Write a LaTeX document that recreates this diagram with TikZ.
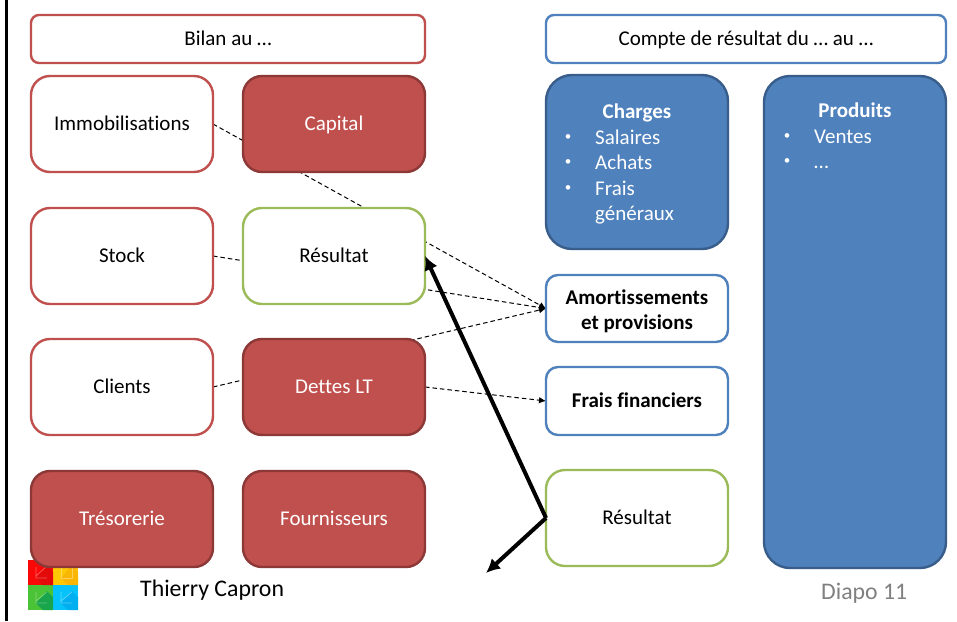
\documentclass[tikz,border=0pt]{standalone}
\usepackage{fontspec}
\setmainfont{Carlito}[Ligatures=CommonOff]
\usetikzlibrary{arrows.meta,backgrounds}
\newcommand{\vstr}{\rule[-2.2pt]{0pt}{18pt}}
\definecolor{redl}{RGB}{192,80,77}
\definecolor{redd}{RGB}{140,56,54}
\definecolor{bluel}{RGB}{79,129,189}
\definecolor{blued}{RGB}{56,93,138}
\definecolor{greenl}{RGB}{155,187,89}
\definecolor{logor}{RGB}{250,8,8}
\definecolor{logory}{RGB}{228,10,10}
\definecolor{logoy}{RGB}{255,200,5}
\definecolor{logoyd}{RGB}{250,182,5}
\definecolor{logog}{RGB}{75,195,55}
\definecolor{logogd}{RGB}{25,165,75}
\definecolor{logoc}{RGB}{5,195,250}
\definecolor{logocd}{RGB}{0,175,240}
\tikzset{
 x=1pt,y=-1pt,
 base/.style={rounded corners=19pt,line width=2.4pt,inner sep=0pt,outer sep=0pt,align=center,font=\fontsize{21}{25}\selectfont,anchor=north west},
 redo/.style={base,draw=redl,fill=white,minimum width=182pt,minimum height=96pt},
 redf/.style={base,draw=redd,fill=redl,text=white,minimum width=182pt,minimum height=96pt},
 greeno/.style={base,draw=greenl,fill=white,minimum width=182pt,minimum height=96pt},
 titlebox/.style={base,rounded corners=8pt,minimum width=394pt,minimum height=48pt},
 blueo/.style={base,rounded corners=12pt,draw=bluel,fill=white,minimum width=182pt},
 bluef/.style={base,rounded corners=26pt,draw=blued,fill=bluel,text=white,minimum width=182pt},
 dash1/.style={black,line width=1pt,dash pattern=on 4.5pt off 3pt},
 dashtip/.style={dash1,-{Latex[length=7pt,width=6.5pt]}},
 heavy/.style={black,line width=4pt,-{Latex[length=14pt,width=14pt]}},
 lbl/.style={text=white,font=\fontsize{21}{25}\selectfont,inner sep=0pt,anchor=base west},
 lblb/.style={text=white,font=\fontsize{21}{25}\selectfont\bfseries,inner sep=0pt,anchor=base},
 bul/.style={text=white,font=\fontsize{13}{15}\selectfont,inner sep=0pt,anchor=base},
 icon/.style={white,opacity=0.35,line width=0.7pt}
}
\begin{document}
\begin{tikzpicture}
\useasboundingbox (0,0) rectangle (957,621);
% logo
\fill[logor] (28,560) rectangle (53,585);
\fill[logoy] (53,560) rectangle (78,585);
\fill[logog] (28,585) rectangle (53,610);
\fill[logoc] (53,585) rectangle (78,610);
\fill[logory] (36,578) -- (47,565) -- (53,572) -- (53,585) -- (43,585) -- cycle;
\fill[logoyd] (61,578) -- (72,565) -- (78,572) -- (78,585) -- (68,585) -- cycle;
\fill[logogd] (36,603) -- (47,591) -- (53,597) -- (53,610) -- (43,610) -- cycle;
\fill[logocd] (61,603) -- (72,591) -- (78,597) -- (78,610) -- (68,610) -- cycle;
\draw[icon] (36,567) -- (36,578) -- (47,578) (36,576) -- (47,566);
\draw[icon] (61,567) -- (61,578) -- (72,578) -- (72,566);
\draw[icon] (36,592) -- (36,603) -- (47,603) (36,601) -- (47,592);
\draw[icon] (61,592) -- (61,603) -- (72,603) (61,601) -- (72,592);
% boxes
\node[titlebox,draw=redl,fill=white] (bilan) at (31,15) {\vstr Bilan au …};
\node[titlebox,draw=bluel,fill=white,minimum width=400pt] (compte) at (546,15) {\vstr Compte de résultat du … au …};
\node[redo] (immo) at (31,76) {\vstr Immobilisations};
\node[redf] (capital) at (243,76) {\vstr Capital};
\node[redo] (stock) at (31,208) {\vstr Stock};
\node[greeno] (res1) at (243,208) {\vstr Résultat};
\node[redo] (clients) at (31,339) {\vstr Clients};
\node[redf] (dettes) at (243,339) {\vstr Dettes LT};
\node[redf] (treso) at (31,471) {\vstr Trésorerie};
\node[redf] (fourn) at (243,471) {\vstr Fournisseurs};
\node[bluef,minimum height=174pt] (charges) at (546,75) {};
\node[bluef,minimum height=492pt] (produits) at (764,76) {};
\node[blueo,minimum height=67pt] (amort) at (546,275) {\rule{0pt}{21pt}\bfseries Amortissements\\\bfseries et provisions};
\node[blueo,minimum height=68pt] (frais) at (546,367) {\vstr\bfseries Frais financiers};
\node[greeno] (res2) at (546,470) {\vstr Résultat};
% box contents
\node[lblb] (tc) at (637,118) {Charges};
\node[lbl] (c1) at (595,144) {Salaires};
\node[lbl] (c2) at (595,169) {Achats};
\node[lbl] (c3) at (595,195) {Frais};
\node[lbl] (c4) at (595,220) {généraux};
\node[bul] (b1) at (568,140.5) {•};
\node[bul] (b2) at (568,165.5) {•};
\node[bul] (b3) at (568,191.5) {•};
\node[lblb] (tp) at (855,117) {Produits};
\node[lbl] (p1) at (814,143) {Ventes};
\node[lbl] (p2) at (814,168) {…};
\node[bul] (b4) at (787,139.5) {•};
\node[bul] (b5) at (787,164) {•};
\node[inner sep=0pt,anchor=base west,font=\fontsize{23.8}{28}\selectfont] (auth) at (140,596) {Thierry Capron};
\node[inner sep=0pt,anchor=base west,text=black!50,font=\fontsize{23.8}{28}\selectfont] (diapo) at (821,599) {Diapo 11};
% connectors
\begin{scope}[on background layer]
\fill[white] (0,0) rectangle (957,621);
\fill[black] (5,0) rectangle (7.5,621);
\draw[dashtip] (immo.east) -- (amort.west);
\draw[dashtip] (stock.east) -- (amort.west);
\draw[dashtip] (clients.east) -- (amort.west);
\draw[dashtip] (dettes.east) -- (frais.west);
\end{scope}
\coordinate (freeend) at (486,573);
\coordinate (res1tip) at (425,256);
\draw[heavy] (res2.west) -- (res1tip);
\draw[heavy] (res2.west) -- (freeend);
\end{tikzpicture}
\end{document}
